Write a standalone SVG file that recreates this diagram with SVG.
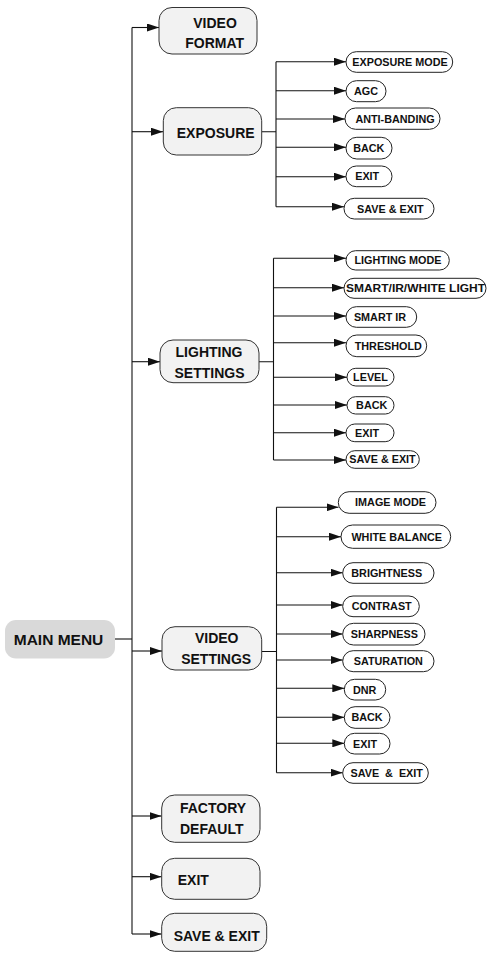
<svg xmlns="http://www.w3.org/2000/svg" width="487" height="953" viewBox="0 0 487 953">
<style>
.main{fill:#f2f2f2;stroke:#333;stroke-width:1}
.sub{fill:#fff;stroke:#222;stroke-width:1}
.mm{fill:#d9d9d9;stroke:none}
.t{font-family:"Liberation Sans",Arial,sans-serif;font-weight:bold;fill:#111;text-anchor:middle}
.tm{font-size:14px}
.ts{font-size:10.8px}
.ln{stroke:#111;stroke-width:1.1;fill:none}
.ar{stroke:#111;stroke-width:1.1;fill:none;marker-end:url(#ah)}
</style>
<defs>
<marker id="ah" markerUnits="userSpaceOnUse" markerWidth="12" markerHeight="8" refX="12" refY="4" orient="auto">
<path d="M0,0 L12,4 L0,8 z" fill="#111"/>
</marker>
</defs>
<g id="connectors">
<path class="ln" d="M132,27.5 V934"/>
<path class="ln" d="M115,639 H132"/>
<path class="ar" d="M132,27.5 H159"/>
<path class="ar" d="M132,131.7 H163"/>
<path class="ar" d="M132,361.7 H160"/>
<path class="ar" d="M132,651 H162"/>
<path class="ar" d="M132,816 H161.5"/>
<path class="ar" d="M132,876.7 H161.5"/>
<path class="ar" d="M132,934 H161.5"/>
<path class="ln" d="M262,131.7 H276 M276,61.7 V206.7"/>
<path class="ar" d="M276,61.7 H346"/>
<path class="ar" d="M276,90.7 H346"/>
<path class="ar" d="M276,119 H345"/>
<path class="ar" d="M276,147.3 H346"/>
<path class="ar" d="M276,176.7 H346"/>
<path class="ar" d="M276,206.7 H344"/>
<path class="ln" d="M259,361.7 H273.5 M273.5,258.3 V460"/>
<path class="ar" d="M273.5,258.3 H346"/>
<path class="ar" d="M273.5,287.7 H344"/>
<path class="ar" d="M273.5,316 H346"/>
<path class="ar" d="M273.5,342.7 H346"/>
<path class="ar" d="M273.5,377.3 H347"/>
<path class="ar" d="M273.5,405 H347"/>
<path class="ar" d="M273.5,432.7 H346"/>
<path class="ar" d="M273.5,460 H346"/>
<path class="ln" d="M262,651.5 H276.5 M276.5,507.3 V772.7"/>
<path class="ar" d="M276.5,507.3 H338.5"/>
<path class="ar" d="M276.5,536.7 H341"/>
<path class="ar" d="M276.5,572.7 H342.7"/>
<path class="ar" d="M276.5,605 H342.7"/>
<path class="ar" d="M276.5,634 H342.7"/>
<path class="ar" d="M276.5,660 H342.7"/>
<path class="ar" d="M276.5,688.3 H344.3"/>
<path class="ar" d="M276.5,717.3 H344.3"/>
<path class="ar" d="M276.5,743.3 H344.3"/>
<path class="ar" d="M276.5,772.7 H342.7"/>
</g>
<g id="main-menu"><rect class="mm" x="5" y="620" width="110" height="38.5" rx="11"/><text class="t" x="58.5" y="645" font-size="15.5px">MAIN MENU</text></g>
<g id="video-format"><rect class="main" x="159" y="7.5" width="98" height="46.5" rx="13"/><text class="t tm" x="215" y="27.7">VIDEO</text><text class="t tm" x="214.7" y="48.3">FORMAT</text></g>
<g id="exposure"><rect class="main" x="163.3" y="107.7" width="98.4" height="47.3" rx="13"/><text class="t tm" x="215.7" y="138.3">EXPOSURE</text></g>
<g id="lighting-settings"><rect class="main" x="160" y="340" width="99" height="42.7" rx="13"/><text class="t tm" x="209" y="357">LIGHTING</text><text class="t tm" x="209.5" y="378">SETTINGS</text></g>
<g id="video-settings"><rect class="main" x="162" y="626.7" width="99.7" height="43.3" rx="13"/><text class="t tm" x="216.7" y="642.7">VIDEO</text><text class="t tm" x="216.2" y="664.3">SETTINGS</text></g>
<g id="factory-default"><rect class="main" x="161.7" y="795" width="98.3" height="47.3" rx="13"/><text class="t tm" x="213" y="812.7">FACTORY</text><text class="t tm" x="211.7" y="834.3">DEFAULT</text></g>
<g id="exit"><rect class="main" x="161.7" y="858.3" width="98.3" height="41" rx="13"/><text class="t tm" x="193.3" y="885">EXIT</text></g>
<g id="save-exit"><rect class="main" x="161.7" y="913.3" width="105" height="38" rx="13"/><text class="t tm" x="216.7" y="941">SAVE &amp; EXIT</text></g>
<g id="exp-mode"><rect class="sub" x="346" y="51.7" width="106.7" height="20.6" rx="10.3"/><text class="t ts" x="400" y="66">EXPOSURE MODE</text></g>
<g id="exp-agc"><rect class="sub" x="346" y="80.7" width="40" height="21" rx="10.5"/><text class="t ts" x="366" y="95.1">AGC</text></g>
<g id="exp-anti"><rect class="sub" x="345" y="108" width="95" height="21.3" rx="10.6"/><text class="t ts" x="395" y="122.6">ANTI-BANDING</text></g>
<g id="exp-back"><rect class="sub" x="346" y="137.3" width="46" height="21.7" rx="10.8"/><text class="t ts" x="368.8" y="152">BACK</text></g>
<g id="exp-exit"><rect class="sub" x="346" y="166" width="46" height="20.7" rx="10.3"/><text class="t ts" x="367.2" y="180.3">EXIT</text></g>
<g id="exp-save"><rect class="sub" x="344" y="198.3" width="90" height="20.7" rx="10.3"/><text class="t ts" x="390.3" y="212.6">SAVE &amp; EXIT</text></g>
<g id="lt-mode"><rect class="sub" x="346" y="250.7" width="103.3" height="19.3" rx="9.6"/><text class="t ts" x="398" y="264.2">LIGHTING MODE</text></g>
<g id="lt-smart-ir-white"><rect class="sub" x="344" y="278.3" width="142" height="20" rx="10"/><text class="t ts" x="415.5" y="292.2" textLength="139" lengthAdjust="spacingAndGlyphs">SMART/IR/WHITE LIGHT</text></g>
<g id="lt-smart-ir"><rect class="sub" x="346" y="306.7" width="70.7" height="20.6" rx="10.3"/><text class="t ts" x="380" y="320.9">SMART IR</text></g>
<g id="lt-threshold"><rect class="sub" x="346" y="335" width="80.7" height="21.7" rx="10.8"/><text class="t ts" x="388.3" y="349.7">THRESHOLD</text></g>
<g id="lt-level"><rect class="sub" x="347" y="368.3" width="47" height="17.7" rx="8.8"/><text class="t ts" x="370.5" y="381">LEVEL</text></g>
<g id="lt-back"><rect class="sub" x="347" y="396.7" width="47" height="17.3" rx="8.6"/><text class="t ts" x="371.7" y="409.2">BACK</text></g>
<g id="lt-exit"><rect class="sub" x="346" y="424" width="48" height="17.7" rx="8.8"/><text class="t ts" x="367" y="436.7">EXIT</text></g>
<g id="lt-save"><rect class="sub" x="346" y="450.7" width="73.3" height="17.6" rx="8.8"/><text class="t ts" x="382.5" y="463.4">SAVE &amp; EXIT</text></g>
<g id="vs-image"><rect class="sub" x="338.3" y="491.7" width="97.7" height="21.6" rx="10.8"/><text class="t ts" x="390.5" y="506.4">IMAGE MODE</text></g>
<g id="vs-wb"><rect class="sub" x="341" y="525" width="109.7" height="23.3" rx="11.6"/><text class="t ts" x="396.7" y="540.5">WHITE BALANCE</text></g>
<g id="vs-bright"><rect class="sub" x="342.7" y="562.7" width="91.3" height="20.6" rx="10.3"/><text class="t ts" x="386.7" y="576.9">BRIGHTNESS</text></g>
<g id="vs-contrast"><rect class="sub" x="342.7" y="596" width="76.6" height="20.7" rx="10.3"/><text class="t ts" x="381.7" y="610.3">CONTRAST</text></g>
<g id="vs-sharp"><rect class="sub" x="342.7" y="623.3" width="82.3" height="21.7" rx="10.8"/><text class="t ts" x="384.3" y="638">SHARPNESS</text></g>
<g id="vs-sat"><rect class="sub" x="342.7" y="650.7" width="91.3" height="21" rx="10.5"/><text class="t ts" x="388.3" y="665.1">SATURATION</text></g>
<g id="vs-dnr"><rect class="sub" x="344.3" y="679.3" width="41.4" height="20.7" rx="10.3"/><text class="t ts" x="364.7" y="693.6">DNR</text></g>
<g id="vs-back"><rect class="sub" x="344.3" y="706.7" width="45.7" height="21.6" rx="10.8"/><text class="t ts" x="367" y="721.4">BACK</text></g>
<g id="vs-exit"><rect class="sub" x="344.3" y="733.3" width="45.7" height="20.7" rx="10.3"/><text class="t ts" x="365" y="747.6">EXIT</text></g>
<g id="vs-save"><rect class="sub" x="342.7" y="762.7" width="85.6" height="20.6" rx="10.3"/><text class="t ts" x="386.7" y="776.9" word-spacing="3">SAVE &amp; EXIT</text></g>
</svg>
